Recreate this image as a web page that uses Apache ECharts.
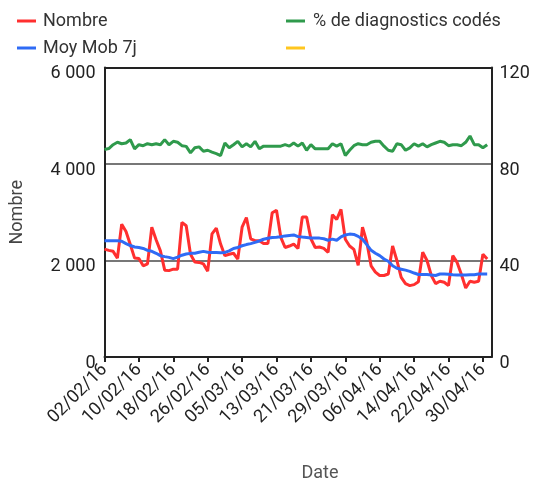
<!DOCTYPE html>
<html>
<head>
<meta charset="utf-8">
<script src="https://cdn.jsdelivr.net/npm/echarts@6/dist/echarts.min.js"></script>
<style>html,body{margin:0;padding:0;background:#fff;}#c{width:535px;height:487px;}</style>
</head>
<body>
<div id="c"></div>
<script>
var categories = [
'02/02/16','03/02/16','04/02/16','05/02/16','06/02/16','07/02/16','08/02/16','09/02/16','10/02/16','11/02/16',
'12/02/16','13/02/16','14/02/16','15/02/16','16/02/16','17/02/16','18/02/16','19/02/16','20/02/16','21/02/16',
'22/02/16','23/02/16','24/02/16','25/02/16','26/02/16','27/02/16','28/02/16','29/02/16','01/03/16','02/03/16',
'03/03/16','04/03/16','05/03/16','06/03/16','07/03/16','08/03/16','09/03/16','10/03/16','11/03/16','12/03/16',
'13/03/16','14/03/16','15/03/16','16/03/16','17/03/16','18/03/16','19/03/16','20/03/16','21/03/16','22/03/16',
'23/03/16','24/03/16','25/03/16','26/03/16','27/03/16','28/03/16','29/03/16','30/03/16','31/03/16','01/04/16',
'02/04/16','03/04/16','04/04/16','05/04/16','06/04/16','07/04/16','08/04/16','09/04/16','10/04/16','11/04/16',
'12/04/16','13/04/16','14/04/16','15/04/16','16/04/16','17/04/16','18/04/16','19/04/16','20/04/16','21/04/16',
'22/04/16','23/04/16','24/04/16','25/04/16','26/04/16','27/04/16','28/04/16','29/04/16','30/04/16','01/05/16',
'02/05/16'
];
var nombre = [
2237,2210,2190,2050,2750,2600,2330,2050,2040,1890,
1930,2690,2430,2200,1800,1790,1820,1820,2790,2720,
2130,1970,1960,1930,1780,2550,2670,2340,2100,2130,
2150,2030,2690,2890,2450,2410,2410,2350,2350,2990,
3040,2480,2270,2300,2340,2250,2900,2900,2450,2270,
2280,2250,2170,2950,2850,3060,2440,2300,2230,1900,
2690,2380,1890,1760,1690,1690,1720,2300,2000,1650,
1520,1480,1500,1560,2170,2000,1690,1520,1570,1550,
1480,2100,1960,1710,1430,1570,1550,1570,2130,2030
];
var moyMob = [
2410,2410,2410,2410,2400,2350,2310,2280,2270,2250,
2210,2190,2150,2100,2080,2065,2040,2070,2110,2134,
2148,2150,2170,2189,2170,2168,2168,2162,2168,2200,
2250,2270,2306,2330,2350,2375,2405,2440,2460,2475,
2480,2492,2510,2520,2530,2495,2485,2478,2468,2464,
2464,2450,2420,2443,2420,2490,2530,2547,2540,2500,
2440,2330,2210,2150,2100,2030,1985,1890,1840,1820,
1800,1775,1740,1710,1708,1708,1700,1690,1720,1722,
1715,1705,1700,1700,1700,1705,1705,1720,1722,1722
];
var pctCodes = [
86.0,86.4,88.0,89.0,88.4,88.7,90.1,86.3,88.0,87.6,
88.4,88.0,88.4,88.0,90.1,88.0,89.4,89.0,87.6,87.3,
84.6,86.7,87.1,85.3,85.7,84.9,84.3,83.5,88.7,86.7,
88.0,89.4,87.1,88.4,87.1,89.4,86.3,87.4,87.4,87.4,
87.4,87.4,88.0,87.4,88.7,87.4,88.7,85.7,88.0,86.3,
86.3,86.3,86.3,88.4,87.4,88.4,83.5,85.7,87.6,88.4,
88.0,88.0,89.0,89.4,89.4,87.4,85.7,85.3,88.4,88.0,
85.7,86.7,88.4,87.4,88.4,87.1,88.0,88.7,89.4,89.0,
87.6,88.0,88.0,87.6,89.0,91.6,88.0,88.0,86.7,88.0
];
var leftTicks = [0, 2000, 4000, 6000];
var rightTicks = [0, 40, 80, 120];

function fmtThousands(v){ return String(v).replace(/\B(?=(\d{3})+(?!\d))/g, ' '); }

var chart = echarts.init(document.getElementById('c'), null, {renderer:'canvas'});
var FONT = 'Roboto, Arial, sans-serif';
var option = {
  animation: false,
  textStyle: {fontFamily: FONT},
  legend: [
    {
      left: 12, top: 7, orient: 'vertical', itemGap: 9,
      icon: 'rect', itemWidth: 19, itemHeight: 3,
      textStyle: {fontSize: 18, color: '#333', fontFamily: FONT, padding: [0,0,0,2]},
      data: ['Nombre', 'Moy Mob 7j']
    },
    {
      left: 281, top: 7, orient: 'vertical', itemGap: 9,
      icon: 'rect', itemWidth: 19, itemHeight: 3,
      textStyle: {fontSize: 18, color: '#333', fontFamily: FONT, padding: [0,0,0,3]},
      data: ['% de diagnostics codés', ' ']
    }
  ],
  grid: {left: 104.5, right: 43.5, top: 67.5, bottom: 128.5, containLabel: false},
  xAxis: {
    type: 'category',
    data: categories,
    boundaryGap: false,
    name: 'Date',
    nameLocation: 'middle',
    nameGap: 107,
    nameTextStyle: {fontSize: 18, color: '#555', fontFamily: FONT, padding: [0,0,0,44]},
    axisLine: {lineStyle: {color: '#222', width: 2}},
    axisTick: {show: true, interval: 7, length: 5, lineStyle: {color: '#222', width: 2}},
    axisLabel: {interval: 7, rotate: 45, fontSize: 18, color: '#222', margin: 10, fontFamily: FONT},
    splitLine: {show: false}
  },
  yAxis: [
    {
      type: 'value', min: 0, max: 6000, interval: 2000, position: 'left',
      name: 'Nombre', nameLocation: 'middle', nameGap: 78, nameRotate: 90,
      nameTextStyle: {fontSize: 18, color: '#444', fontFamily: FONT},
      axisLine: {show: true, lineStyle: {color: '#222', width: 2}},
      axisTick: {show: false},
      axisLabel: {fontSize: 18, color: '#222', margin: 9, fontFamily: FONT, formatter: fmtThousands,
                  verticalAlign: 'top', lineHeight: 12},
      splitLine: {show: true, lineStyle: {color: ['#222','#777','#777','#222'], width: 2}}
    },
    {
      type: 'value', min: 0, max: 120, interval: 40, position: 'right',
      axisLine: {show: true, lineStyle: {color: '#222', width: 2}},
      axisTick: {show: false},
      axisLabel: {fontSize: 18, color: '#222', margin: 8, fontFamily: FONT,
                  verticalAlign: 'top', lineHeight: 12},
      splitLine: {show: false}
    }
  ],
  series: [
    {name: 'Nombre', type: 'line', data: nombre, yAxisIndex: 0, symbol: 'none',
     lineStyle: {color: '#ff2f2f', width: 3}, itemStyle: {color: '#ff2f2f'}, z: 3},
    {name: 'Moy Mob 7j', type: 'line', data: moyMob, yAxisIndex: 0, symbol: 'none',
     lineStyle: {color: '#2f6bf5', width: 3}, itemStyle: {color: '#2f6bf5'}, z: 4},
    {name: '% de diagnostics codés', type: 'line', data: pctCodes, yAxisIndex: 1, symbol: 'none',
     lineStyle: {color: '#2f9a4c', width: 3}, itemStyle: {color: '#2f9a4c'}, z: 3},
    {name: ' ', type: 'line', data: [], yAxisIndex: 1, symbol: 'none',
     lineStyle: {color: '#ffc61f', width: 3}, itemStyle: {color: '#ffc61f'}}
  ]
};
chart.setOption(option);
</script>
</body>
</html>
